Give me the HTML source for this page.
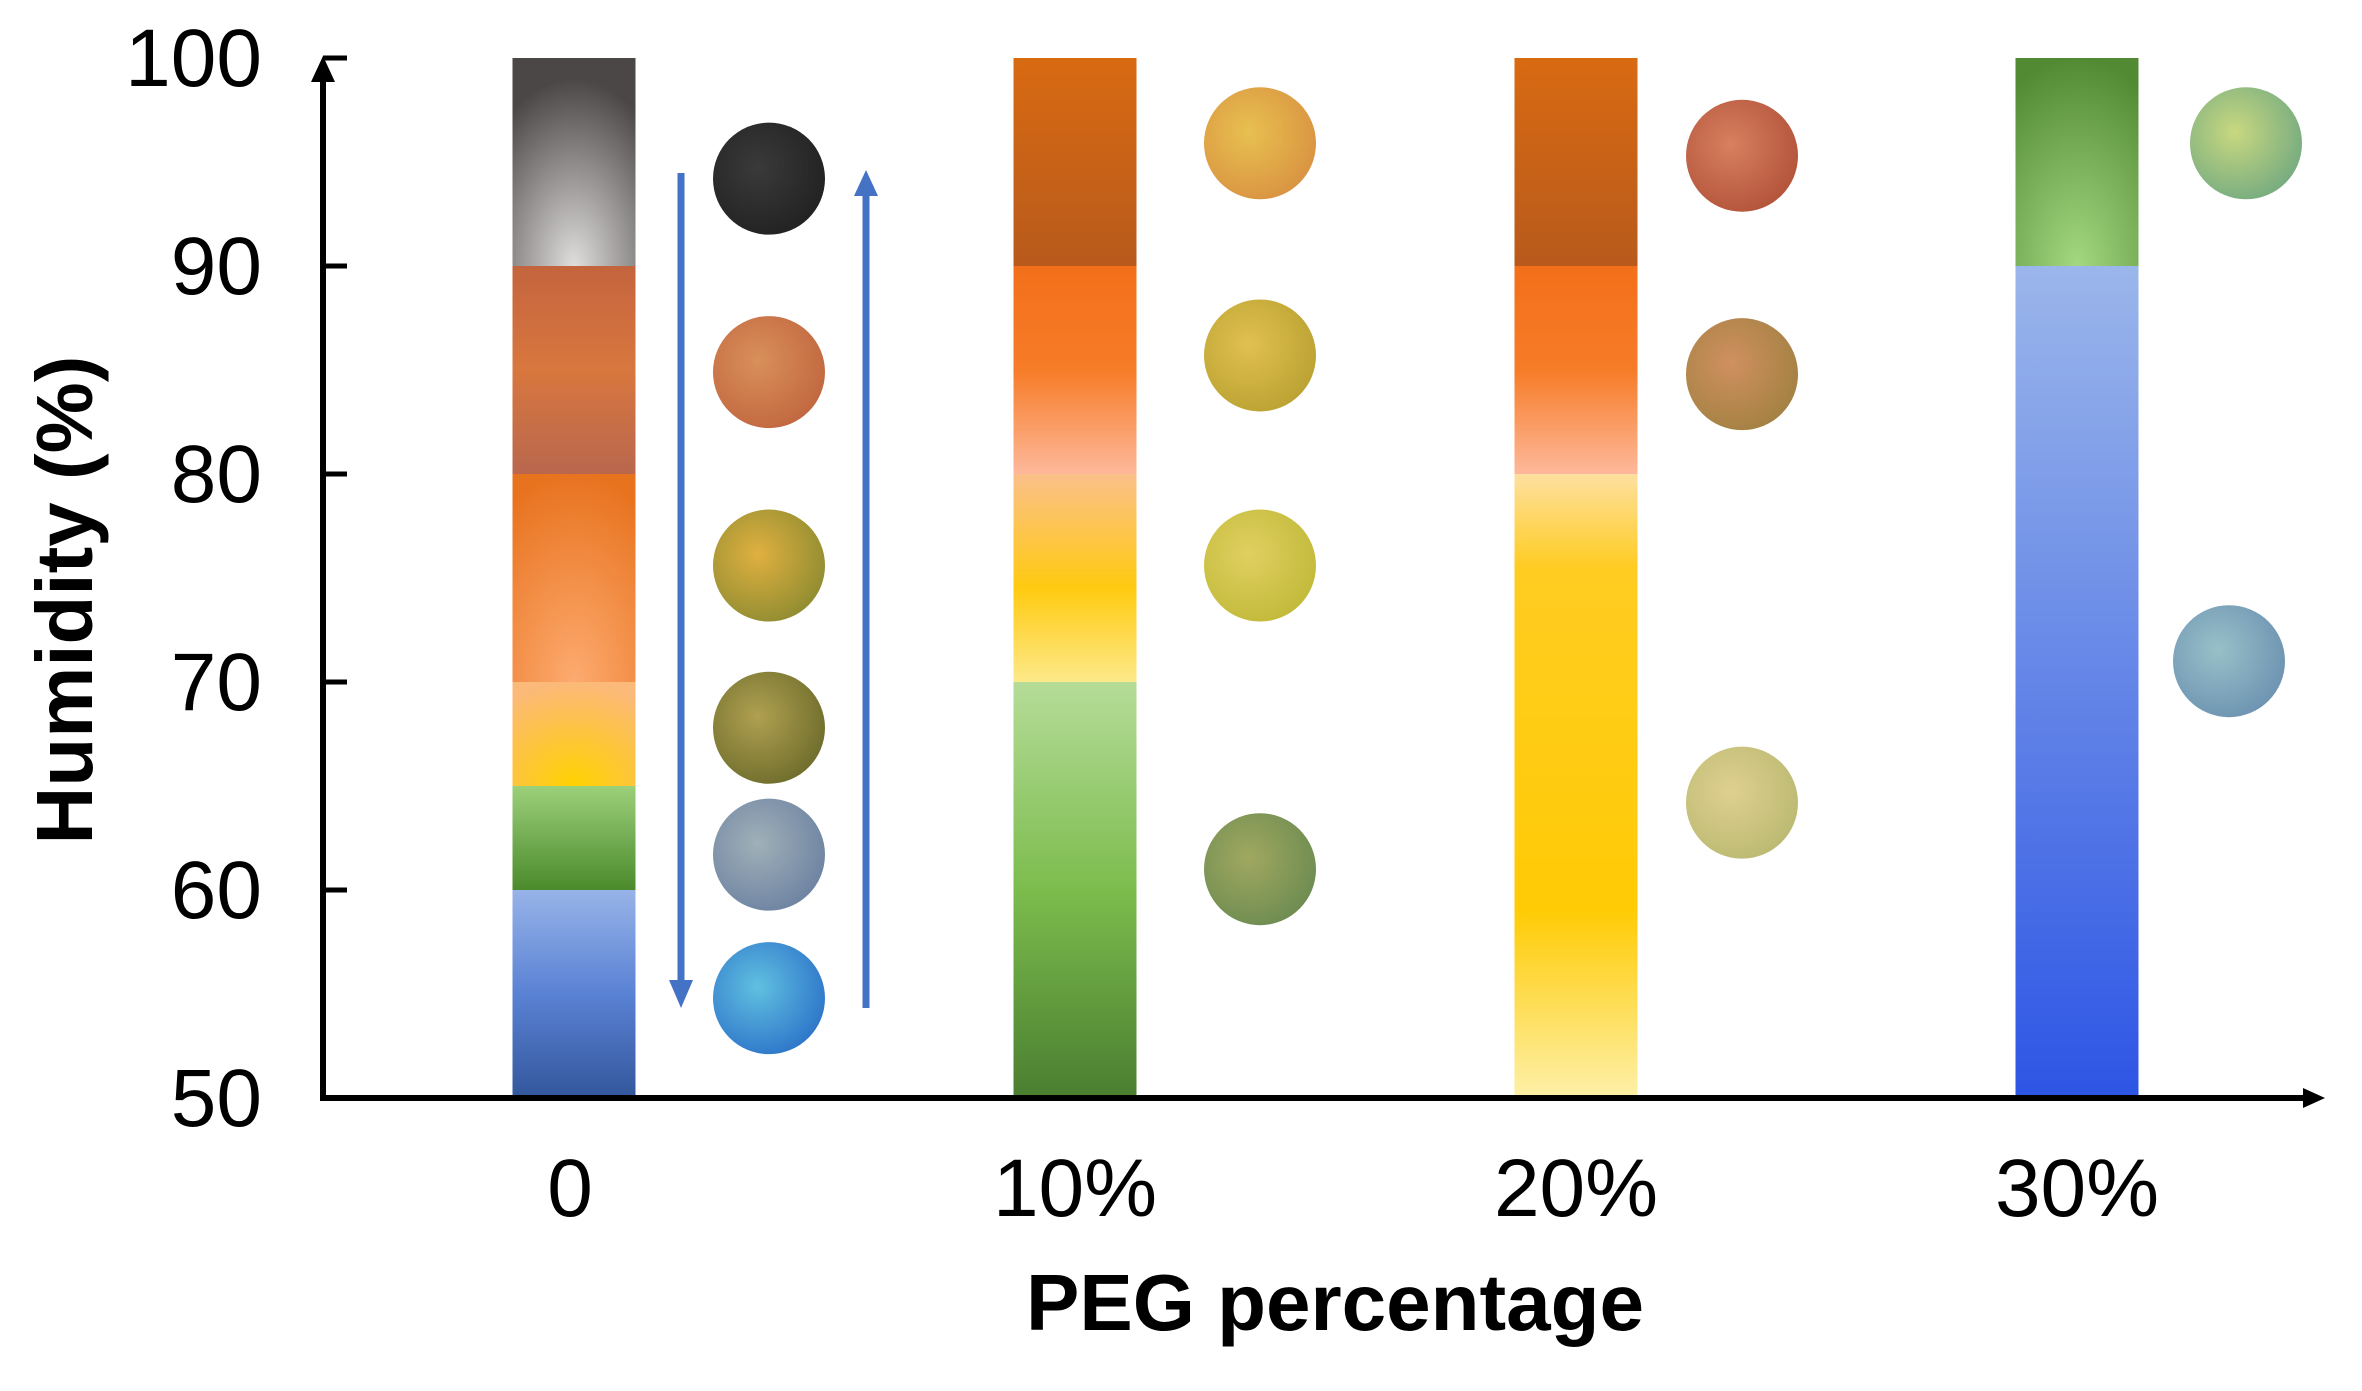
<!DOCTYPE html>
<html><head><meta charset="utf-8"><style>
html,body{margin:0;padding:0;background:#fff;}
svg{display:block;}
text{font-family:"Liberation Sans",sans-serif;}
</style></head><body>
<svg id="chart" width="2362" height="1391" viewBox="0 0 2362 1391" xmlns="http://www.w3.org/2000/svg">
<defs>
<radialGradient id="gGray" cx="0.5" cy="1" r="0.9"><stop offset="0" stop-color="#e0dedc"/><stop offset="1" stop-color="#4a4746"/></radialGradient>
<linearGradient id="gBrown" x1="0" y1="0" x2="0" y2="1"><stop offset="0" stop-color="#c4643e"/><stop offset="0.5" stop-color="#d8773e"/><stop offset="1" stop-color="#b9674e"/></linearGradient>
<radialGradient id="gOrange" cx="0.5" cy="1" r="1"><stop offset="0" stop-color="#fdab70"/><stop offset="1" stop-color="#e8731f"/></radialGradient>
<radialGradient id="gYellow" cx="0.5" cy="1" r="1"><stop offset="0" stop-color="#ffd100"/><stop offset="1" stop-color="#fbb97a"/></radialGradient>
<linearGradient id="gGreen0" x1="0" y1="0" x2="0" y2="1"><stop offset="0" stop-color="#9cd07a"/><stop offset="1" stop-color="#4b8a2c"/></linearGradient>
<linearGradient id="gBlue0" x1="0" y1="0" x2="0" y2="1"><stop offset="0" stop-color="#97b3e8"/><stop offset="0.5" stop-color="#5a82d4"/><stop offset="1" stop-color="#33579c"/></linearGradient>
<linearGradient id="gDark" x1="0" y1="0" x2="0" y2="1"><stop offset="0" stop-color="#d86a12"/><stop offset="1" stop-color="#b85a1c"/></linearGradient>
<linearGradient id="gOr2" x1="0" y1="0" x2="0" y2="1"><stop offset="0" stop-color="#f36f1a"/><stop offset="0.5" stop-color="#f77c28"/><stop offset="1" stop-color="#fdb89a"/></linearGradient>
<linearGradient id="gYel1" x1="0" y1="0" x2="0" y2="1"><stop offset="0" stop-color="#fbc08a"/><stop offset="0.55" stop-color="#ffca10"/><stop offset="1" stop-color="#fde98a"/></linearGradient>
<linearGradient id="gGreen1" x1="0" y1="0" x2="0" y2="1"><stop offset="0" stop-color="#b5dc98"/><stop offset="0.5" stop-color="#7cbc4d"/><stop offset="1" stop-color="#4a7e30"/></linearGradient>
<linearGradient id="gYel2" x1="0" y1="0" x2="0" y2="1"><stop offset="0" stop-color="#fde0a0"/><stop offset="0.15" stop-color="#ffcc22"/><stop offset="0.7" stop-color="#ffcb05"/><stop offset="1" stop-color="#fdf0a8"/></linearGradient>
<radialGradient id="gGreen3" cx="0.5" cy="1" r="1"><stop offset="0" stop-color="#a3d880"/><stop offset="1" stop-color="#528a34"/></radialGradient>
<linearGradient id="gBlue3" x1="0" y1="0" x2="0" y2="1"><stop offset="0" stop-color="#9bb6ea"/><stop offset="1" stop-color="#2d55e5"/></linearGradient>
</defs>
<g id="bars"></g>
<g id="balls"></g>
<g id="axes"></g>
</svg>
<script>
const categories = ["0","10%","20%","30%"];
const yTicks = [50,60,70,80,90,100];
// segments per category: [lowHumidity, highHumidity, fill]
const seg0 = [[50,60,"gBlue0"],[60,65,"gGreen0"],[65,70,"gYellow"],[70,80,"gOrange"],[80,90,"gBrown"],[90,100,"gGray"]];
const seg1 = [[50,70,"gGreen1"],[70,80,"gYel1"],[80,90,"gOr2"],[90,100,"gDark"]];
const seg2 = [[50,80,"gYel2"],[80,90,"gOr2"],[90,100,"gDark"]];
const seg3 = [[50,90,"gBlue3"],[90,100,"gGreen3"]];
const segments = [seg0,seg1,seg2,seg3];
// sample image humidity positions
const balls0 = [[94.2,"#202020","#3a3a3a"],[84.9,"#c0643e","#d9905a"],[75.6,"#8a8a30","#e0b040"],[67.8,"#6a6a2a","#b0a050"],[61.7,"#6a80a0","#a0b0b8"],[54.8,"#2a70c8","#60c0e0"]];
const balls1 = [[95.9,"#d89040","#e8c050"],[85.7,"#b8a030","#e0c050"],[75.6,"#c0b838","#e0d060"],[61.0,"#6a8a50","#a0a860"]];
const balls2 = [[95.3,"#b05038","#d88060"],[84.8,"#a08040","#d09060"],[64.2,"#b8b870","#e0d090"]];
const balls3 = [[95.9,"#70a880","#c8d880"],[71.0,"#6a90b0","#98c0c8"]];
const balls = [balls0,balls1,balls2,balls3];

const NS="http://www.w3.org/2000/svg";
const X0=323, XEND=2325, Y50=1098, Y100=58;
function yScale(v){return Y50-(v-50)/50*(Y50-Y100);}
const catStart=574, catStep=501;
function xScale(i){return catStart+i*catStep;}
const BW=123;
function mk(tag,attrs,parent){const e=document.createElementNS(NS,tag);for(const k in attrs)e.setAttribute(k,attrs[k]);parent.appendChild(e);return e;}
const gb=document.getElementById('bars'), gballs=document.getElementById('balls'), ga=document.getElementById('axes');
segments.forEach((segs,i)=>{
  segs.forEach((s,j)=>{
    const r=mk('rect',{x:xScale(i)-BW/2,y:yScale(s[1]),width:BW,height:yScale(s[0])-yScale(s[1]),fill:'url(#'+s[2]+')'},gb);
    
    
  });
});
const ballDx=[195,185,166,169];
balls.forEach((arr,i)=>{
  arr.forEach((b,j)=>{
    const cx=xScale(i)+ballDx[i]+(i===3&&j===1?-17:0);
    const id='bg'+i+'_'+j;
    const d=document.getElementById('chart').querySelector('defs');
    const g=mk('radialGradient',{id:id,cx:'0.4',cy:'0.4',r:'0.7'},d);
    mk('stop',{offset:'0','stop-color':b[2]},g);mk('stop',{offset:'1','stop-color':b[1]},g);
    const c=mk('circle',{cx:cx,cy:yScale(b[0]),r:56,fill:'url(#'+id+')'},gballs);
    
    
  });
});
// process arrows
const arrDown=mk('g',{},gballs);


mk('line',{x1:681,y1:173,x2:681,y2:985,stroke:'#4472c4','stroke-width':7},arrDown);
mk('polygon',{points:'669,980 693,980 681,1008',fill:'#4472c4'},arrDown);
const arrUp=mk('g',{},gballs);


mk('line',{x1:866,y1:190,x2:866,y2:1008,stroke:'#4472c4','stroke-width':7},arrUp);
mk('polygon',{points:'854,196 878,196 866,170',fill:'#4472c4'},arrUp);
// axes
const ya=mk('line',{x1:X0,y1:Y50+3,x2:X0,y2:Y100+18,stroke:'#000','stroke-width':6},ga);


mk('polygon',{points:(X0-12)+','+(Y100+24)+' '+(X0+12)+','+(Y100+24)+' '+X0+','+(Y100-2),fill:'#000'},ga);
const xa=mk('line',{x1:X0-3,y1:Y50,x2:XEND-15,y2:Y50,stroke:'#000','stroke-width':6},ga);


mk('polygon',{points:(XEND-22)+','+(Y50-10)+' '+(XEND-22)+','+(Y50+10)+' '+XEND+','+Y50,fill:'#000'},ga);
yTicks.forEach(t=>{
  if(t>50) mk('line',{x1:X0,y1:yScale(t),x2:X0+24,y2:yScale(t),stroke:'#000','stroke-width':5},ga);
  const tx=mk('text',{x:262,y:yScale(t)+28,'text-anchor':'end','font-size':82,fill:'#000'},ga);
  tx.textContent=t;
  
  
});
categories.forEach((c,i)=>{
  const tx=mk('text',{x:xScale(i)+(i===0?-4:0),y:1216,'text-anchor':'middle','font-size':82,fill:'#000'},ga);
  tx.textContent=c;
  
  
});
const xt=mk('text',{x:1335,y:1330,'text-anchor':'middle','font-size':80,'font-weight':'bold',fill:'#000'},ga);
xt.textContent='PEG percentage';


const yt=mk('text',{x:0,y:0,'text-anchor':'middle','font-size':80,'font-weight':'bold',fill:'#000',transform:'translate(92,600) rotate(-90)'},ga);
yt.textContent='Humidity (%)';


</script>
</body></html>
